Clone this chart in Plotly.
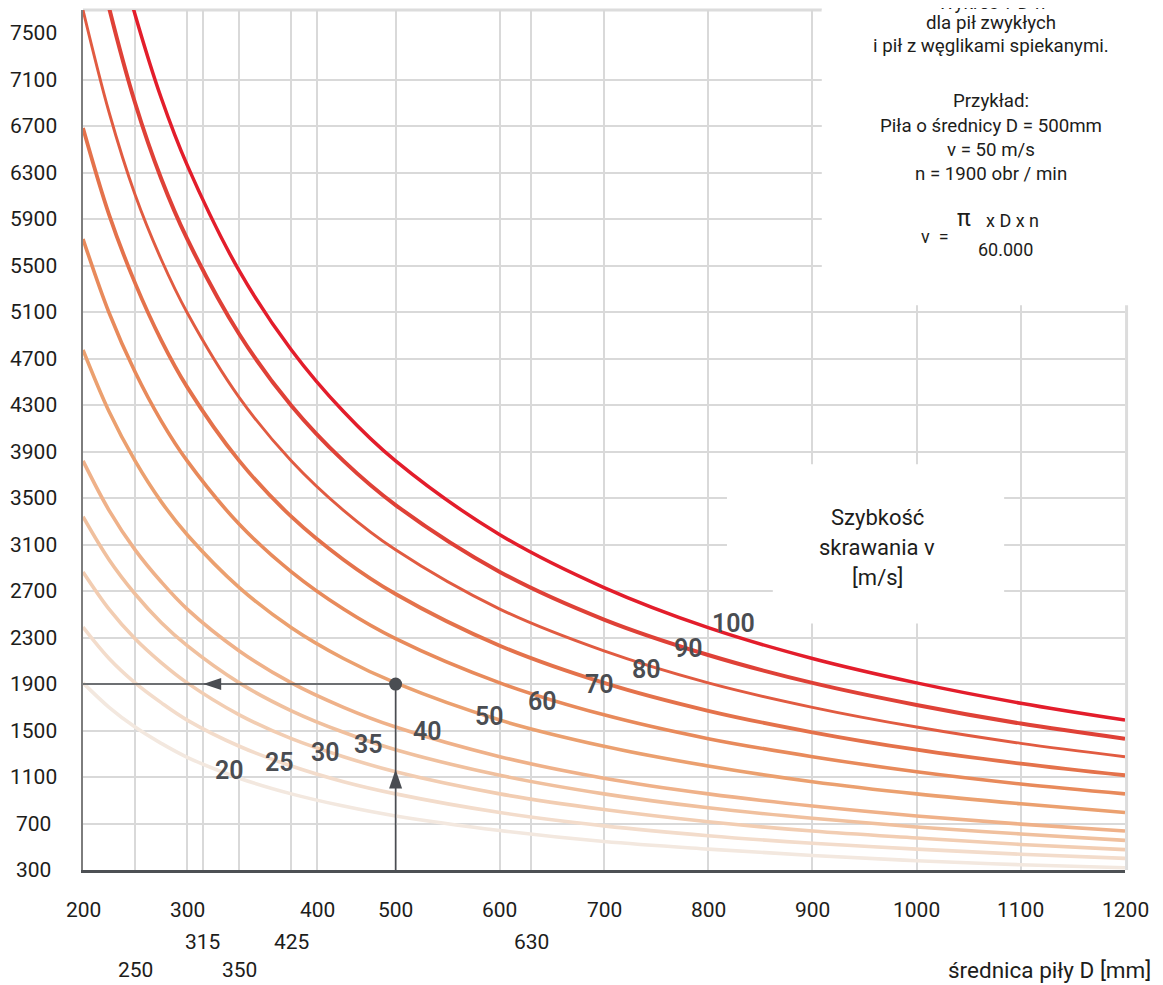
import plotly.graph_objects as go

# ---------------- data ----------------
diameters = [200, 225, 250, 275, 300, 350, 400, 450, 500, 600, 700, 800, 900, 1000, 1100, 1200]

speeds = [20, 25, 30, 35, 40, 50, 60, 70, 80, 90, 100]

rpm_20 = [1910, 1700, 1530, 1390, 1270, 1090, 955, 850, 765, 640, 545, 480, 425, 380, 345, 320]
rpm_25 = [2390, 2120, 1910, 1740, 1590, 1365, 1195, 1060, 955, 795, 680, 595, 530, 480, 435, 400]
rpm_30 = [2865, 2545, 2290, 2085, 1910, 1635, 1430, 1275, 1145, 955, 820, 715, 635, 575, 520, 475]
rpm_35 = [3340, 2970, 2675, 2430, 2230, 1910, 1670, 1485, 1335, 1115, 955, 835, 745, 670, 610, 555]
rpm_40 = [3820, 3395, 3055, 2780, 2545, 2185, 1910, 1700, 1530, 1275, 1090, 955, 850, 765, 695, 635]
rpm_50 = [4775, 4245, 3820, 3470, 3185, 2730, 2385, 2120, 1910, 1590, 1365, 1195, 1060, 955, 870, 795]
rpm_60 = [5730, 5095, 4585, 4165, 3820, 3275, 2865, 2545, 2290, 1910, 1635, 1430, 1275, 1145, 1040, 955]
rpm_70 = [6685, 5940, 5350, 4860, 4455, 3820, 3340, 2970, 2675, 2230, 1910, 1670, 1485, 1335, 1215, 1115]
rpm_80 = [7700, 6820, 6110, 5555, 5095, 4365, 3820, 3395, 3055, 2545, 2185, 1910, 1700, 1530, 1390, 1275]
rpm_90 = [8700, 7720, 6900, 6250, 5730, 4910, 4295, 3820, 3440, 2865, 2455, 2150, 1910, 1720, 1560, 1430]
rpm_100 = [9550, 8490, 7660, 6945, 6365, 5455, 4775, 4245, 3820, 3185, 2730, 2385, 2120, 1910, 1735, 1590]

rpm_series = [rpm_20, rpm_25, rpm_30, rpm_35, rpm_40, rpm_50, rpm_60, rpm_70, rpm_80, rpm_90, rpm_100]

# example: D = 500 mm, v = 50 m/s -> n = 1900 obr/min
example_D = 500
example_n = 1900

# tick labels
y_tick_labels = [300, 700, 1100, 1500, 1900, 2300, 2700, 3100, 3500, 3900, 4300,
                 4700, 5100, 5500, 5900, 6300, 6700, 7100, 7500]
y_grid_values = [700, 1100, 1500, 1900, 2300, 2700, 3100, 3500, 3900, 4300,
                 4700, 5100, 5500, 5900, 6300, 6700, 7100]
x_grid_values = [250, 300, 315, 350, 400, 425, 500, 600, 630, 700, 800, 900, 1000, 1100]

x_row1_pos = [200, 300, 425, 500, 600, 700, 800, 900, 1000, 1100, 1200]
x_row1_txt = ["200", "300", "400", "500", "600", "700", "800", "900", "1000", "1100", "1200"]
x_row2_pos = [315, 400, 630]
x_row2_txt = ["315", "425", "630"]
x_row3_pos = [250, 350]
x_row3_txt = ["250", "350"]

# curve label placement (D, n)
label_D = [341, 389, 433, 474, 531, 590, 641, 696, 741, 781, 824]
label_n = [1160, 1229, 1315, 1384, 1496, 1625, 1746, 1900, 2021, 2210, 2425]

# ---------------- styles ----------------
curve_colors = ['#f3e8df', '#f3dccb', '#f2cdb2', '#f0c09e', '#efb189',
                '#eba06f', '#e88a5b', '#e4724b', '#e15b41', '#df4137', '#e31d2b']
curve_widths = [3.6, 3.6, 3.6, 3.6, 3.6, 3.6, 3.6, 3.8, 2.9, 4.0, 3.5]
FONT = "Roboto, 'DejaVu Sans', sans-serif"
DARK = '#4a4d52'
TXT = '#1d1d1b'
GRID = '#d9d9d9'

X_RANGE = [200, 1200]
Y_RANGE = [300, 7700]

fig = go.Figure()

for v, n, c, w in zip(speeds, rpm_series, curve_colors, curve_widths):
    fig.add_trace(go.Scatter(x=diameters, y=n, mode='lines',
                             line=dict(color=c, width=w, shape='spline'),
                             name=f'{v} m/s', hoverinfo='skip'))

# example guide lines
fig.add_trace(go.Scatter(x=[X_RANGE[0], example_D, example_D],
                         y=[example_n, example_n, Y_RANGE[0]],
                         mode='lines', line=dict(color=DARK, width=1.6),
                         hoverinfo='skip'))
fig.add_trace(go.Scatter(x=[example_D], y=[example_n], mode='markers',
                         marker=dict(color=DARK, size=13), hoverinfo='skip'))

shapes = []
# white panels hiding the grid behind the text blocks
shapes.append(dict(type='rect', xref='x', yref='y', x0=909, x1=1250, y0=5160, y1=8000,
                   fillcolor='white', line=dict(width=0), layer='between'))
shapes.append(dict(type='rect', xref='x', yref='y', x0=862, x1=1084, y0=2420, y1=3792,
                   fillcolor='white', line=dict(width=0), layer='between'))
shapes.append(dict(type='rect', xref='x', yref='y', x0=818, x1=863, y0=2800, y1=3792,
                   fillcolor='white', line=dict(width=0), layer='between'))
# light frame: top and right
shapes.append(dict(type='line', xref='paper', yref='paper', x0=0, x1=(909 - 200) / 1000,
                   y0=1, y1=1, line=dict(color='#dcdcdc', width=3), layer='between'))
shapes.append(dict(type='line', xref='paper', yref='paper', x0=1.0015, x1=1.0015,
                   y0=0, y1=(5160 - 300) / 7400, line=dict(color='#dcdcdc', width=3),
                   layer='between'))
# arrowheads
shapes.append(dict(type='path', xref='x', yref='y', xsizemode='pixel', ysizemode='pixel',
                   xanchor=324, yanchor=example_n, path='M -9 0 L 9 6 L 9 -6 Z',
                   fillcolor=DARK, line=dict(width=0), layer='above'))
shapes.append(dict(type='path', xref='x', yref='y', xsizemode='pixel', ysizemode='pixel',
                   xanchor=example_D, yanchor=1083, path='M 0 9.5 L 6.5 -9.5 L -6.5 -9.5 Z',
                   fillcolor=DARK, line=dict(width=0), layer='above'))

ann = []
# y tick labels
for t in y_tick_labels:
    ann.append(dict(x=0, xref='paper', xshift=-50, xanchor='center', y=t, yref='y',
                    yanchor='middle', text=str(t), showarrow=False,
                    font=dict(family=FONT, size=21, color=TXT)))
# x tick labels, three rows
for pos_list, txt_list, shift in [(x_row1_pos, x_row1_txt, -40),
                                  (x_row2_pos, x_row2_txt, -72),
                                  (x_row3_pos, x_row3_txt, -100)]:
    for p, t in zip(pos_list, txt_list):
        ann.append(dict(x=p, xref='x', y=0, yref='paper', yshift=shift, yanchor='middle',
                        xanchor='center', text=t, showarrow=False,
                        font=dict(family=FONT, size=21, color=TXT)))
# curve labels
for v, xd, yn in zip(speeds, label_D, label_n):
    ann.append(dict(x=xd, y=yn, xref='x', yref='y', text=str(v), showarrow=False,
                    xanchor='center', yanchor='middle',
                    font=dict(family=FONT, size=25, color=DARK, weight=600)))

# page-pixel helpers
def px_x(px):
    return (px - 83) / 1042

def px_y(py):
    return (870 - py) / 860

# axis title
ann.append(dict(x=px_x(1153), y=px_y(970), xref='paper', yref='paper', xanchor='right',
                yanchor='middle', text='średnica piły D [mm]', showarrow=False,
                font=dict(family=FONT, size=22.5, color=TXT)))
# speed box
for txt, py in [('Szybkość', 517), ('skrawania v', 547), ('[m/s]', 577)]:
    ann.append(dict(x=px_x(877), y=px_y(py), xref='paper', yref='paper', xanchor='center',
                    yanchor='middle', text=txt, showarrow=False,
                    font=dict(family=FONT, size=22, color=TXT)))
# top-right info block
info_lines = [('Wykres v-D-n', 3), ('dla pił zwykłych', 23),
              ('i pił z węglikami spiekanymi.', 46), ('Przykład:', 101),
              ('Piła o średnicy D = 500mm', 126), ('v = 50 m/s', 150),
              ('n = 1900 obr / min', 174)]
for txt, py in info_lines:
    ann.append(dict(x=px_x(991), y=px_y(py), xref='paper', yref='paper', xanchor='center',
                    yanchor='middle', text=txt, showarrow=False,
                    font=dict(family=FONT, size=18.7, color=TXT)))
ann.append(dict(x=px_x(964), y=px_y(218), xref='paper', yref='paper', xanchor='center',
                yanchor='middle', text='π', showarrow=False,
                font=dict(family=FONT, size=23, color=TXT)))
ann.append(dict(x=px_x(1012), y=px_y(220), xref='paper', yref='paper', xanchor='center',
                yanchor='middle', text='x D x n', showarrow=False,
                font=dict(family=FONT, size=18, color=TXT)))
ann.append(dict(x=px_x(935), y=px_y(237), xref='paper', yref='paper', xanchor='center',
                yanchor='middle', text='v  =', showarrow=False,
                font=dict(family=FONT, size=18, color=TXT)))
ann.append(dict(x=px_x(1005), y=px_y(249), xref='paper', yref='paper', xanchor='center',
                yanchor='middle', text='60.000', showarrow=False,
                font=dict(family=FONT, size=18, color=TXT)))

fig.update_layout(
    width=1155, height=977,
    margin=dict(l=75, r=38, t=2, b=115),
    paper_bgcolor='white', plot_bgcolor='white',
    showlegend=False,
    shapes=shapes, annotations=ann,
    xaxis=dict(range=X_RANGE, tickvals=x_grid_values, showticklabels=False,
               showgrid=True, gridcolor=GRID, gridwidth=1.5, zeroline=False,
               showline=True, linecolor='#4d5054', linewidth=2.5, ticks=''),
    yaxis=dict(range=Y_RANGE, tickvals=y_grid_values, showticklabels=False,
               showgrid=True, gridcolor=GRID, gridwidth=1.5, zeroline=False,
               showline=True, linecolor='#7d7d7d', linewidth=2, ticks=''),
)

fig.write_html("out.html")
